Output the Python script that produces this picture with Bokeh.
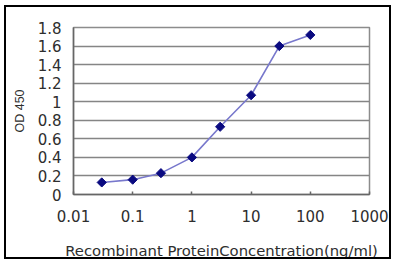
import math
from bokeh.plotting import figure
from bokeh.models import FixedTicker, Range1d
from bokeh.embed import file_html
from bokeh.resources import INLINE

# data
conc = [0.03, 0.1, 0.3, 1, 3, 10, 30, 100]
od450 = [0.13, 0.16, 0.23, 0.40, 0.73, 1.07, 1.60, 1.72]

x_ticks = [0.01, 0.1, 1, 10, 100, 1000]
x_tick_labels = ["0.01", "0.1", "1", "10", "100", "1000"]
y_ticks = [0, 0.2, 0.4, 0.6, 0.8, 1, 1.2, 1.4, 1.6, 1.8]
y_tick_labels = ["0", "0.2", "0.4", "0.6", "0.8", "1", "1.2", "1.4", "1.6", "1.8"]

x_title = "Recombinant ProteinConcentration(ng/ml)"
y_title = "OD 450"

FONT = "DejaVu Sans"
TXT = "#2e2e2e"

p = figure(width=387, height=254, x_axis_type="log",
           x_range=Range1d(0.01, 1000), y_range=Range1d(0, 1.8),
           output_backend="svg", toolbar_location=None,
           min_border_left=67, min_border_right=24,
           min_border_top=20, min_border_bottom=65)
p.styles = {"border": "2px solid black", "margin-left": "4px", "margin-top": "5px"}

p.background_fill_color = "white"
p.border_fill_color = "white"
p.outline_line_color = "#8c8c8c"
p.outline_line_width = 1.5

# grid
p.xgrid.grid_line_color = None
p.ygrid.grid_line_color = "#858585"
p.ygrid.grid_line_width = 1.6

# x axis
p.xaxis.ticker = FixedTicker(ticks=x_ticks, minor_ticks=[])
p.xaxis.major_label_overrides = dict(zip(x_ticks, x_tick_labels))
p.xaxis.axis_label = x_title
p.xaxis.axis_label_text_font = FONT
p.xaxis.axis_label_text_font_size = "14.8px"
p.xaxis.axis_label_text_font_style = "normal"
p.xaxis.axis_label_text_color = TXT
p.xaxis.axis_label_standoff = 17
p.xaxis.major_label_text_font = FONT
p.xaxis.major_label_text_font_size = "15px"
p.xaxis.major_label_text_color = TXT
p.xaxis.major_label_standoff = 15
p.xaxis.major_tick_in = 3
p.xaxis.major_tick_out = 0
p.xaxis.minor_tick_line_color = None
p.xaxis.axis_line_color = "#666666"
p.xaxis.axis_line_width = 1.5
p.xaxis.major_tick_line_color = "#666666"
p.xaxis.major_tick_line_width = 1.5

# y axis
p.yaxis.ticker = FixedTicker(ticks=y_ticks, minor_ticks=[])
p.yaxis.major_label_overrides = dict(zip(y_ticks, y_tick_labels))
p.yaxis.axis_label = y_title
p.yaxis.axis_label_text_font = "Liberation Sans"
p.yaxis.axis_label_text_font_size = "12.5px"
p.yaxis.axis_label_text_font_style = "normal"
p.yaxis.axis_label_text_color = TXT
p.yaxis.axis_label_standoff = 8
p.yaxis.major_label_text_font = FONT
p.yaxis.major_label_text_font_size = "15px"
p.yaxis.major_label_text_color = TXT
p.yaxis.major_label_standoff = 12
p.yaxis.major_tick_in = 0
p.yaxis.major_tick_out = 0
p.yaxis.minor_tick_line_color = None
p.yaxis.axis_line_color = "#666666"
p.yaxis.axis_line_width = 1.5

# data
p.line(conc, od450, line_color="#7878cc", line_width=1.6)
p.scatter(conc, od450, marker="square", angle=math.pi / 4, size=6.5,
          fill_color="#0a0a80", line_color="#0a0a80")

open("out.html", "w").write(file_html(p, INLINE))
